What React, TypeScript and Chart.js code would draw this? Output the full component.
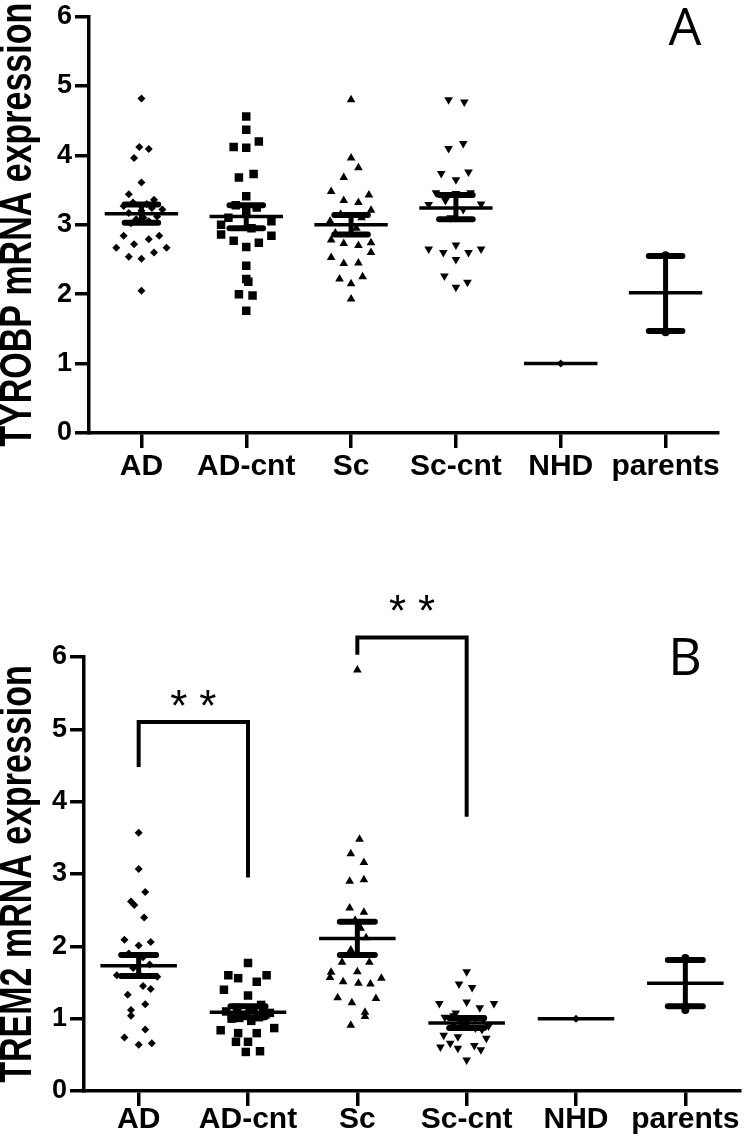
import React, { useEffect, useRef } from "react";
import { Chart, registerables } from "chart.js";

Chart.register(...registerables);

// ---------- shared ----------
const categories = ["AD", "AD-cnt", "Sc", "Sc-cnt", "NHD", "parents"];
const yTickValues = [0, 1, 2, 3, 4, 5, 6];

// ---------- Panel A : TYROBP ----------
const tyrobpAD = [4.82, 4.12, 4.09, 3.96, 3.61, 3.44, 3.36, 3.32, 3.3, 3.27, 3.24, 3.2, 3.17, 3.12, 3.08, 3.05, 3.02, 2.84, 2.79, 2.84, 2.72, 2.67, 2.67, 2.6, 2.54, 2.51, 2.05, 3.22, 3.1];
const tyrobpADJit = [0, -0.02, 0.07, -0.07, 0, -0.12, 0.12, -0.08, 0.05, -0.17, 0.1, 0, -0.12, 0.15, -0.05, 0.07, -0.1, -0.17, 0.07, 0.17, -0.07, -0.24, 0.24, 0.12, -0.12, 0, 0, 0.2, 0.02];
const tyrobpADcnt = [4.56, 4.37, 4.12, 4.11, 4.2, 3.73, 3.68, 3.41, 3.28, 3.25, 3.18, 3.1, 3.05, 3.0, 2.95, 2.86, 2.84, 2.77, 2.74, 2.68, 2.41, 2.22, 2.18, 2.0, 1.98, 1.76];
const tyrobpADcntJit = [0, 0, -0.12, 0, 0.12, 0.07, -0.07, 0, -0.1, 0.1, 0, -0.17, 0.24, -0.24, 0.05, -0.24, 0.24, -0.12, 0.12, 0, 0, 0, 0.02, -0.07, 0.06, 0];
const tyrobpSc = [4.8, 3.96, 3.82, 3.68, 3.48, 3.43, 3.35, 3.32, 3.21, 3.15, 3.1, 3.05, 2.95, 2.88, 2.78, 2.73, 2.7, 2.74, 2.6, 2.53, 2.44, 2.45, 2.22, 2.15, 2.25, 1.93];
const tyrobpScJit = [0, 0, 0.07, -0.07, -0.19, 0.17, -0.07, 0.07, 0.19, -0.1, 0.1, -0.2, 0.05, -0.15, -0.19, -0.07, 0.07, 0.19, 0.19, -0.19, -0.07, 0.07, -0.11, 0, 0.11, 0];
const tyrobpSccnt = [4.8, 4.77, 4.1, 4.17, 3.74, 3.65, 3.76, 3.46, 3.45, 3.46, 3.35, 3.3, 3.29, 3.22, 3.1, 2.65, 2.6, 2.71, 2.5, 2.6, 2.65, 2.26, 2.1, 2.17];
const tyrobpSccntJit = [-0.07, 0.08, -0.07, 0.07, -0.14, 0, 0.12, -0.19, 0, 0.14, -0.1, 0.24, -0.26, 0.07, -0.05, -0.26, -0.12, 0, 0, 0.12, 0.24, -0.11, 0, 0.11];
const tyrobpNHD = [1.0];
const tyrobpParents = [2.56, 1.47, 1.45];
const tyrobpMean = [3.16, 3.12, 3.0, 3.24, 1.0, 2.02];
const tyrobpSemHigh = [3.29, 3.28, 3.14, 3.43, null, 2.55];
const tyrobpSemLow = [3.03, 2.95, 2.86, 3.08, null, 1.47];

// ---------- Panel B : TREM2 ----------
const trem2AD = [3.57, 3.07, 2.75, 2.62, 2.57, 2.4, 2.09, 2.06, 2.01, 1.9, 1.85, 1.75, 1.7, 1.6, 1.58, 1.62, 1.45, 1.41, 1.33, 1.2, 1.12, 1.04, 0.85, 0.74, 0.64, 0.66];
const trem2ADJit = [0, 0, 0.06, -0.07, -0.04, 0.05, -0.13, 0.11, 0, -0.09, 0.04, 0.1, -0.05, -0.2, 0.17, 0, 0.04, 0.11, -0.1, 0.06, -0.07, -0.07, 0.06, -0.13, 0, 0.12];
const trem2ADcnt = [1.77, 1.6, 1.6, 1.56, 1.51, 1.4, 1.32, 1.19, 1.15, 1.12, 1.1, 1.08, 1.05, 1.02, 1.0, 0.97, 0.84, 0.87, 0.8, 0.8, 0.68, 0.68, 0.54, 0.55, 1.13, 1.06, 1.01];
const trem2ADcntJit = [0, -0.18, 0.17, -0.09, 0.08, -0.22, 0, 0.12, -0.1, 0.05, -0.2, 0.2, -0.05, 0.1, -0.15, 0.03, -0.25, 0.24, -0.09, 0.08, -0.11, 0, -0.02, 0.11, 0.14, 0.16, -0.08];
const trem2Sc = [5.82, 3.48, 3.28, 3.16, 2.9, 2.92, 2.53, 2.47, 2.36, 2.25, 2.12, 1.95, 1.78, 1.78, 1.64, 1.65, 1.57, 1.51, 1.49, 1.56, 1.48, 1.29, 1.22, 1.28, 1.09, 1.03, 0.91];
const trem2ScJit = [0, 0.02, -0.06, 0.06, -0.07, 0.06, -0.07, 0.06, -0.02, 0.03, 0.08, -0.06, -0.14, 0.11, -0.24, 0, -0.25, -0.13, 0.01, 0.22, 0.12, -0.18, -0.05, 0.17, 0.07, 0.07, -0.06];
const trem2Sccnt = [1.65, 1.48, 1.43, 1.21, 1.23, 1.21, 1.15, 1.08, 1.02, 0.98, 0.95, 0.92, 0.9, 0.87, 0.77, 0.73, 0.75, 0.61, 0.59, 0.63, 0.57, 0.66, 0.43, 1.0, 0.96, 0.9, 0.85, 1.04];
const trem2SccntJit = [0, -0.07, 0.05, -0.25, 0, 0.25, 0.12, -0.1, -0.2, 0.15, 0, -0.12, 0.2, 0.08, -0.21, 0.18, -0.08, -0.24, -0.08, 0.07, 0.13, -0.15, 0, 0.08, -0.06, -0.04, 0.14, -0.12];
const trem2NHD = [1.0];
const trem2Parents = [1.84, 1.17, 1.12];
const trem2Mean = [1.73, 1.09, 2.11, 0.94, 1.0, 1.49];
const trem2SemHigh = [1.88, 1.17, 2.34, 1.01, null, 1.81];
const trem2SemLow = [1.59, 1.02, 1.88, 0.87, null, 1.17];

// significance brackets (category index, value)
const bracket1X = [0, 0, 1, 1];
const bracket1Y = [4.48, 5.1, 5.1, 2.95];
const bracket2X = [2, 2, 3, 3];
const bracket2Y = [6.03, 6.27, 6.27, 3.79];
const starX = [0.5, 2.5];
const starY = [5.39, 6.71];
const starText = ["**", "**"];

const pointStyles = ["rectRot", "rect", "triangle", "triangle", "rectRot", "circle"];
const pointRotations = [0, 0, 0, 180, 0, 0];
const pointRadii = [4, 6, 5, 5, 4, 4];

const FONT = "'Liberation Sans', Arial, sans-serif";

function groupDatasets(groups: number[][], jitters: (number[] | null)[]) {
  return groups.map((vals, i) => ({
    type: "scatter" as const,
    data: vals.map((v, k) => ({ x: i + (jitters[i] ? (jitters[i] as number[])[k] : 0), y: v })),
    pointStyle: pointStyles[i],
    pointRotation: pointRotations[i],
    pointRadius: pointRadii[i],
    pointHoverRadius: pointRadii[i],
    backgroundColor: "#000",
    borderColor: "#000",
    borderWidth: 0,
    showLine: false,
  }));
}

function meanSemPlugin(means: number[], hi: (number | null)[], lo: (number | null)[]) {
  return {
    id: "meanSem",
    afterDatasetsDraw(chart: any) {
      const { ctx } = chart;
      const x = chart.scales.x;
      const y = chart.scales.y;
      ctx.save();
      ctx.strokeStyle = "#000";
      means.forEach((m, i) => {
        ctx.lineWidth = 3.5;
        ctx.lineCap = "butt";
        ctx.beginPath();
        ctx.moveTo(x.getPixelForValue(i - 0.35), y.getPixelForValue(m));
        ctx.lineTo(x.getPixelForValue(i + 0.35), y.getPixelForValue(m));
        ctx.stroke();
        const h = hi[i];
        const l = lo[i];
        if (h != null && l != null) {
          ctx.lineWidth = 5;
          ctx.beginPath();
          ctx.moveTo(x.getPixelForValue(i), y.getPixelForValue(h));
          ctx.lineTo(x.getPixelForValue(i), y.getPixelForValue(l));
          ctx.stroke();
          ctx.lineWidth = 6;
          ctx.lineCap = "round";
          [h, l].forEach((v) => {
            ctx.beginPath();
            ctx.moveTo(x.getPixelForValue(i - 0.16), y.getPixelForValue(v));
            ctx.lineTo(x.getPixelForValue(i + 0.16), y.getPixelForValue(v));
            ctx.stroke();
          });
        }
      });
      ctx.restore();
    },
  };
}

function textPlugin(letter: string, lx: number, ly: number, stars: boolean, title: string) {
  return {
    id: "panelText",
    afterDraw(chart: any) {
      const { ctx, chartArea } = chart;
      ctx.save();
      ctx.fillStyle = "#000";
      ctx.textAlign = "center";
      ctx.textBaseline = "middle";
      ctx.font = "400 52px 'Open Sans'";
      ctx.fillText(letter, lx, ly);
      // y-axis title (drawn slightly widened like the original)
      ctx.save();
      ctx.translate(19, (chartArea.top + chartArea.bottom) / 2);
      ctx.rotate(-Math.PI / 2);
      ctx.scale(1, 1.3);
      ctx.font = `bold 34px ${FONT}`;
      ctx.fillText(title, 0, 0);
      ctx.restore();
      if (stars) {
        const x = chart.scales.x;
        const y = chart.scales.y;
        ctx.font = "400 44px 'Liberation Sans'";
        (ctx as any).letterSpacing = "12px";
        starText.forEach((t, i) => {
          ctx.fillText(t, x.getPixelForValue(starX[i]) + 6, y.getPixelForValue(starY[i]) + 8);
        });
      }
      ctx.restore();
    },
  };
}

function makeConfig(opts: {
  groups: number[][];
  jitters: (number[] | null)[];
  means: number[];
  hi: (number | null)[];
  lo: (number | null)[];
  title: string;
  yWidth: number;
  xHeight: number;
  padTop: number;
  padRight: number;
  labelPad: number;
  letter: string;
  letterX: number;
  letterY: number;
  brackets: boolean;
}) {
  const datasets: any[] = groupDatasets(opts.groups, opts.jitters);
  if (opts.brackets) {
    [
      [bracket1X, bracket1Y],
      [bracket2X, bracket2Y],
    ].forEach(([bx, by]) => {
      datasets.push({
        type: "line",
        data: bx.map((xv, k) => ({ x: xv, y: by[k] })),
        borderColor: "#000",
        borderWidth: 4,
        borderJoinStyle: "miter",
        borderCapStyle: "butt",
        pointRadius: 0,
        pointHoverRadius: 0,
        fill: false,
        tension: 0,
        clip: false,
      });
    });
  }
  return {
    type: "scatter" as const,
    data: { datasets },
    options: {
      animation: false as const,
      responsive: false,
      devicePixelRatio: 1,
      events: [],
      layout: { padding: { top: opts.padTop, right: opts.padRight, left: 0, bottom: 0 } },
      plugins: { legend: { display: false }, tooltip: { enabled: false }, title: { display: false } },
      scales: {
        x: {
          type: "linear" as const,
          min: -0.5,
          max: 5.5,
          afterBuildTicks: (s: any) => {
            s.ticks = categories.map((_, i) => ({ value: i }));
          },
          afterFit: (s: any) => {
            s.height = opts.xHeight;
          },
          ticks: {
            callback: (v: any) => categories[Math.round(v)] ?? "",
            color: "#000",
            font: { family: FONT, size: 30, weight: "bold", lineHeight: 1 },
            padding: opts.labelPad,
            maxRotation: 0,
            autoSkip: false,
          },
          grid: { drawOnChartArea: false, drawTicks: true, tickLength: 15, color: "#000", lineWidth: 3.5 },
          border: { display: true, color: "#000", width: 3.5 },
        },
        y: {
          type: "linear" as const,
          min: 0,
          max: 6,
          afterBuildTicks: (s: any) => {
            s.ticks = yTickValues.map((v) => ({ value: v }));
          },
          afterFit: (s: any) => {
            s.width = opts.yWidth;
          },
          ticks: {
            color: "#000",
            font: { family: FONT, size: 27, weight: "bold", lineHeight: 1 },
            padding: 3,
          },
          title: { display: false },
          grid: { drawOnChartArea: false, drawTicks: true, tickLength: 14, color: "#000", lineWidth: 3.5 },
          border: { display: true, color: "#000", width: 3.5 },
        },
      },
    },
    plugins: [
      meanSemPlugin(opts.means, opts.hi, opts.lo),
      textPlugin(opts.letter, opts.letterX, opts.letterY, opts.brackets, opts.title),
    ],
  };
}

export default function App() {
  const refA = useRef<HTMLCanvasElement>(null);
  const refB = useRef<HTMLCanvasElement>(null);

  useEffect(() => {
    document.body.style.margin = "0";
    document.body.style.background = "#fff";
    const a = new Chart(
      refA.current as HTMLCanvasElement,
      makeConfig({
        groups: [tyrobpAD, tyrobpADcnt, tyrobpSc, tyrobpSccnt, tyrobpNHD, tyrobpParents],
        jitters: [tyrobpADJit, tyrobpADcntJit, tyrobpScJit, tyrobpSccntJit, null, null],
        means: tyrobpMean,
        hi: tyrobpSemHigh,
        lo: tyrobpSemLow,
        title: "TYROBP mRNA expression",
        yWidth: 89,
        xHeight: 107,
        padTop: 14,
        padRight: 29,
        labelPad: 4,
        letter: "A",
        letterX: 685,
        letterY: 30,
        brackets: false,
      }) as any
    );
    const b = new Chart(
      refB.current as HTMLCanvasElement,
      makeConfig({
        groups: [trem2AD, trem2ADcnt, trem2Sc, trem2Sccnt, trem2NHD, trem2Parents],
        jitters: [trem2ADJit, trem2ADcntJit, trem2ScJit, trem2SccntJit, null, null],
        means: trem2Mean,
        hi: trem2SemHigh,
        lo: trem2SemLow,
        title: "TREM2 mRNA expression",
        yWidth: 84,
        xHeight: 49,
        padTop: 117,
        padRight: 7,
        labelPad: -1,
        letter: "B",
        letterX: 685,
        letterY: 120,
        brackets: true,
      }) as any
    );
    return () => {
      a.destroy();
      b.destroy();
    };
  }, []);

  return (
    <div style={{ width: 747, height: 1140, background: "#fff" }}>
      <canvas ref={refA} width={747} height={540} style={{ display: "block" }} />
      <canvas ref={refB} width={747} height={600} style={{ display: "block" }} />
    </div>
  );
}
